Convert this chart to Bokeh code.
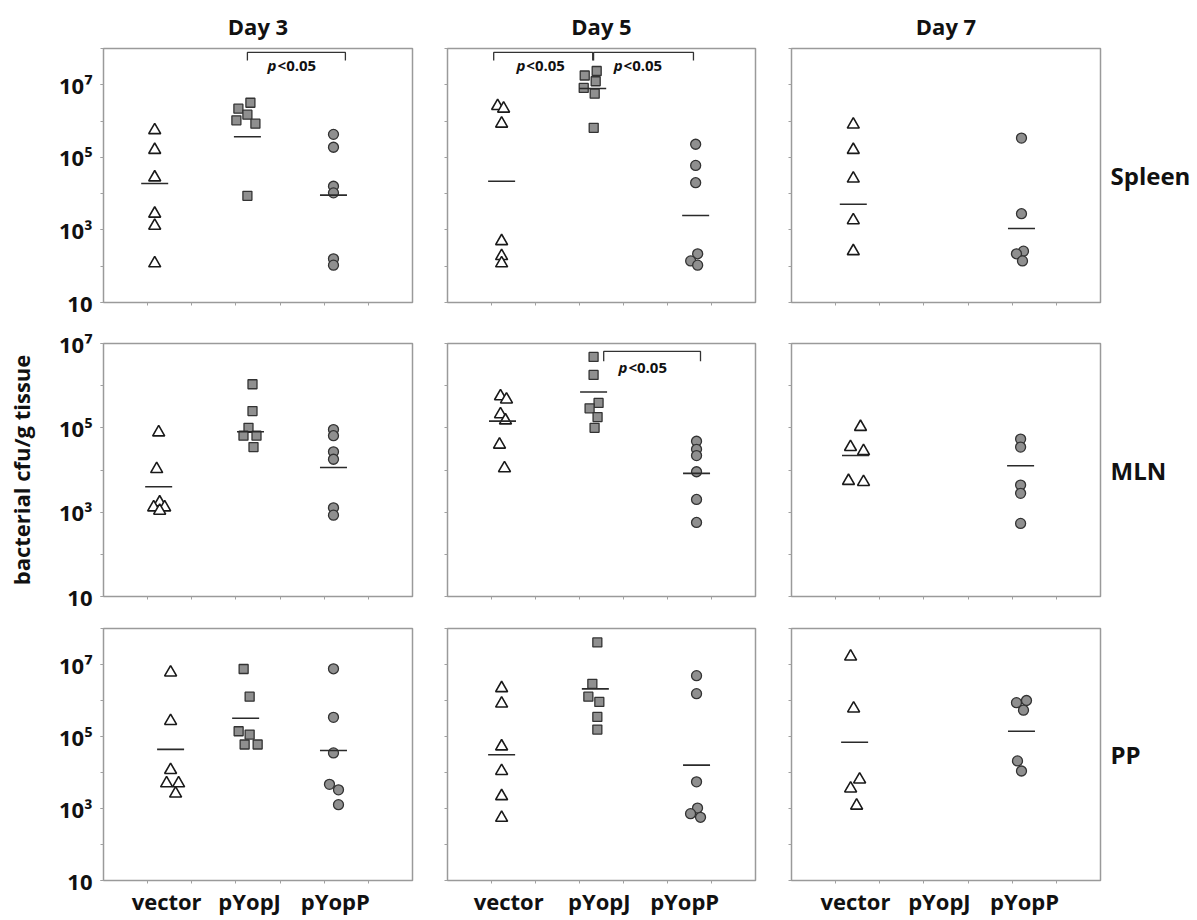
from bokeh.plotting import figure
from bokeh.layouts import column, row
from bokeh.models import Range1d, FixedTicker, CustomJSTickFormatter, ColumnDataSource, LogAxis
from bokeh.core.properties import value
from bokeh.embed import file_html
from bokeh.resources import INLINE

# ---------------- data (bacterial cfu / g tissue) ----------------
GROUPS = ["vector", "pYopJ", "pYopP"]
DAYS = ["Day 3", "Day 5", "Day 7"]
TISSUES = ["Spleen", "MLN", "PP"]
Y_AXIS_TITLE = "bacterial cfu/g tissue"
SIG_TEXT = ("p", "<0.05")

spleen_d3_vector = [5.6e5, 1.6e5, 2.8e4, 2.8e3, 1.3e3, 1.2e2]
spleen_d3_pyopj = [3.2e6, 2.2e6, 1.5e6, 1.05e6, 8.5e5, 8.7e3]
spleen_d3_pyopp = [4.3e5, 1.9e5, 1.6e4, 1.05e4, 1.6e2, 1.07e2]
spleen_d5_vector = [2.6e6, 2.2e6, 8.5e5, 4.9e2, 1.9e2, 1.2e2]
spleen_d5_pyopj = [2.4e7, 1.8e7, 1.25e7, 8.2e6, 5.7e6, 6.5e5]
spleen_d5_pyopp = [2.3e5, 6.0e4, 2.0e4, 2.2e2, 1.4e2, 1.07e2]
spleen_d7_vector = [8.0e5, 1.6e5, 2.6e4, 1.85e3, 2.6e2]
spleen_d7_pyopj = []
spleen_d7_pyopp = [3.4e5, 2.8e3, 2.6e2, 2.2e2, 1.4e2]

mln_d3_vector = [7.8e4, 1.05e4, 1.7e3, 1.3e3, 1.3e3, 1.08e3]
mln_d3_pyopj = [1.08e6, 2.5e5, 1.0e5, 6.5e4, 6.5e4, 3.5e4]
mln_d3_pyopp = [9.1e4, 6.5e4, 2.7e4, 1.8e4, 1.27e3, 8.5e2]
mln_d5_vector = [5.6e5, 4.7e5, 2.1e5, 1.5e5, 4.0e4, 1.1e4]
mln_d5_pyopj = [4.8e6, 1.8e6, 3.9e5, 2.9e5, 1.8e5, 1.0e5]
mln_d5_pyopp = [4.8e4, 3.1e4, 2.2e4, 9.1e3, 2.0e3, 5.7e2]
mln_d7_vector = [1.05e5, 3.5e4, 2.8e4, 5.5e3, 5.2e3]
mln_d7_pyopj = []
mln_d7_pyopp = [5.4e4, 3.5e4, 4.4e3, 2.8e3, 5.4e2]

pp_d3_vector = [6.0e6, 2.7e5, 1.17e4, 5.0e3, 5.0e3, 2.6e3]
pp_d3_pyopj = [7.5e6, 1.28e6, 1.4e5, 1.13e5, 6.0e4, 6.0e4]
pp_d3_pyopp = [7.6e6, 3.4e5, 3.5e4, 4.7e3, 3.3e3, 1.28e3]
pp_d5_vector = [2.2e6, 8.2e5, 5.3e4, 1.1e4, 2.2e3, 5.5e2]
pp_d5_pyopj = [4.1e7, 2.9e6, 1.28e6, 9.1e5, 3.5e5, 1.56e5]
pp_d5_pyopp = [4.9e6, 1.55e6, 5.5e3, 1.03e3, 7.2e2, 5.7e2]
pp_d7_vector = [1.66e7, 6.0e5, 6.4e3, 3.6e3, 1.2e3]
pp_d7_pyopj = []
pp_d7_pyopp = [1.0e6, 8.7e5, 5.4e5, 2.1e4, 1.1e4]

# group mean bars, per day: [vector, pYopJ, pYopP]
spleen_means = [[1.9e4, 3.7e5, 9.1e3], [2.2e4, 7.9e6, 2.5e3], [5.1e3, None, 1.1e3]]
mln_means = [[4.0e3, 8.1e4, 1.15e4], [1.44e5, 7.1e5, 8.3e3], [2.2e4, None, 1.26e4]]
pp_means = [[4.4e4, 3.2e5, 4.1e4], [3.1e4, 2.1e6, 1.6e4], [6.9e4, None, 1.4e5]]

DATA = [
    [[spleen_d3_vector, spleen_d3_pyopj, spleen_d3_pyopp],
     [spleen_d5_vector, spleen_d5_pyopj, spleen_d5_pyopp],
     [spleen_d7_vector, spleen_d7_pyopj, spleen_d7_pyopp]],
    [[mln_d3_vector, mln_d3_pyopj, mln_d3_pyopp],
     [mln_d5_vector, mln_d5_pyopj, mln_d5_pyopp],
     [mln_d7_vector, mln_d7_pyopj, mln_d7_pyopp]],
    [[pp_d3_vector, pp_d3_pyopj, pp_d3_pyopp],
     [pp_d5_vector, pp_d5_pyopj, pp_d5_pyopp],
     [pp_d7_vector, pp_d7_pyopj, pp_d7_pyopp]],
]
MEANS = [spleen_means, mln_means, pp_means]

# ---------------- positions / layout (not data) ----------------
Y_TOP = [1e8, 1e7, 1e8]
GROUP_X = [
    [[1.16, 3.26, 5.21], [1.23, 3.30, 5.64], [1.40, 3.30, 5.21]],
    [[1.25, 3.33, 5.21], [1.25, 3.32, 5.66], [1.45, 3.30, 5.19]],
    [[1.52, 3.22, 5.21], [1.23, 3.36, 5.66], [1.43, 3.30, 5.21]],
]
JITTER_PX = [
    [[[0, 0, 0, 0, 0, 0], [3, -9, 0, -11, 8, 0], [0, 0, 0, 0, 0, 0]],
     [[-4, 2, 0, 0, 0, 0], [4, -8, 3, -9, 2, 1], [0, 0, 0, 2, -5, 2]],
     [[0, 0, 0, 0, 0], [], [0, 0, 2, -5, 1]]],
    [[[0, -2, 1, -5, 6, 1], [2, 2, -2, -7, 6, 3], [0, 0, 0, 0, 0, 0]],
     [[-2, 4, -2, 3, -3, 2], [0, 0, 5, -4, 4, 1], [0, 0, 0, 0, 0, 0]],
     [[5, -5, 8, -7, 8], [], [0, 0, 0, 0, 0]]],
    [[[0, 0, 0, -4, 8, 5], [-2, 4, -7, 4, -1, 12], [0, 0, 0, -4, 5, 5]],
     [[0, 0, 0, 0, 0, 0], [2, -3, -7, 4, 2, 2], [0, 0, 0, 1, -6, 4]],
     [[-4, -1, 5, -4, 2], [], [5, -5, 2, -4, 0]]],
]
LABEL_X = [[1.43, 3.31, 5.25], [1.39, 3.45, 5.39], [1.45, 3.35, 5.28]]
# significance brackets: (x0, x1, y_top, y_end, text_x, text_y)
BRACKETS = {
    (0, 0): [(3.26, 5.48, 7.8e7, 4.7e7, 4.26, 3.6e7)],
    (0, 1): [(1.05, 3.30, 7.8e7, 4.7e7, 2.11, 3.6e7),
             (3.32, 5.59, 7.8e7, 4.7e7, 4.32, 3.6e7)],
    (1, 1): [(3.55, 5.75, 6.5e6, 3.8e6, 4.43, 2.8e6)],
}

FONT = "Open Sans"
FRAME_W = [309, 308, 309]
BORDER_L = [103, 18, 18]
BORDER_R = [17, 18, 94]
FRAME_H = [255, 253, 255]
BORDER_T = [47, 21, 16]
BORDER_B = [20, 16, 35]
PX_PER_UNIT = 44.1

MARKERS = ["triangle", "square", "circle"]
FILLS = ["white", "#8f8f8f", "#8f8f8f"]
LINES = ["#1a1a1a", "#333333", "#333333"]
SIZES = [12, 9, 10]
LWIDTH = [1.6, 1.3, 1.3]

fmt_y = CustomJSTickFormatter(code="""
const e = Math.round(Math.log10(tick));
const sup = {3: '\u00b3', 5: '\u2075', 7: '\u2077'};
return e == 1 ? '10' : '10' + sup[e];
""")


def make_panel(r, c):
    p = figure(width=BORDER_L[c] + FRAME_W[c] + BORDER_R[c],
               height=BORDER_T[r] + FRAME_H[r] + BORDER_B[r],
               x_range=Range1d(0, 7), y_range=Range1d(10, Y_TOP[r]),
               y_axis_type="log", output_backend="svg", toolbar_location=None,
               min_border_left=BORDER_L[c], min_border_right=BORDER_R[c],
               min_border_top=BORDER_T[r], min_border_bottom=BORDER_B[r],
               background_fill_color="white", border_fill_color="white")
    p.grid.visible = False
    p.outline_line_color = "#9a9a9a"
    p.outline_line_width = 1.5

    # x axis
    xa = p.xaxis[0]
    xa.ticker = FixedTicker(ticks=LABEL_X[c] if r == 2 else [], minor_ticks=[1, 2, 3, 4, 5, 6])
    xa.formatter = CustomJSTickFormatter(args=dict(labels=GROUPS), code="return labels[index];")
    xa.axis_line_color = None
    xa.major_tick_line_color = None
    xa.major_tick_out = 0
    xa.major_tick_in = 0
    xa.minor_tick_line_color = "#a0a0a0"
    xa.minor_tick_out = 3
    xa.minor_tick_in = 0
    xa.major_label_standoff = 2
    xa.major_label_text_font = FONT
    xa.major_label_text_font_size = "22px"
    xa.major_label_text_font_style = "bold"
    xa.major_label_text_color = "#111111"

    # y axis
    ya = p.yaxis[0]
    ya.ticker = FixedTicker(ticks=[10, 1e3, 1e5, 1e7] if c == 0 else [],
                            minor_ticks=[10.0 ** k for k in range(1, 9)])
    ya.formatter = fmt_y
    ya.axis_line_color = None
    ya.major_tick_line_color = "#a0a0a0"
    ya.major_tick_out = 3
    ya.major_tick_in = 0
    ya.minor_tick_line_color = "#a0a0a0"
    ya.minor_tick_out = 3
    ya.minor_tick_in = 0
    ya.major_label_standoff = 8
    ya.major_label_text_font = FONT
    ya.major_label_text_font_size = "22px"
    ya.major_label_text_font_style = "bold"
    ya.major_label_text_color = "#111111"
    if r == 1 and c == 0:
        ya.axis_label = Y_AXIS_TITLE
        ya.axis_label_text_font = FONT
        ya.axis_label_text_font_size = "22px"
        ya.axis_label_text_font_style = "bold"
        ya.axis_label_text_color = "#111111"
        ya.axis_label_standoff = 20

    if r == 0:
        p.title.text = DAYS[c]
        p.title.align = "center"
        p.title.text_font = FONT
        p.title.text_font_size = "22px"
        p.title.text_font_style = "bold"
        p.title.text_color = "#111111"
        p.title.standoff = 16

    # points
    for g in range(3):
        vals = DATA[r][c][g]
        if not vals:
            continue
        xs = [GROUP_X[r][c][g] + j / PX_PER_UNIT for j in JITTER_PX[r][c][g]]
        src = ColumnDataSource(dict(x=xs, y=vals))
        p.scatter("x", "y", source=src, marker=MARKERS[g], size=SIZES[g],
                  fill_color=FILLS[g], line_color=LINES[g], line_width=LWIDTH[g])

    # mean bars
    mx, my = [], []
    for g in range(3):
        m = MEANS[r][c][g]
        if m is not None:
            mx.append(GROUP_X[r][c][g])
            my.append(m)
    p.scatter(mx, my, marker="dash", size=27, line_color="#2a2a2a", line_width=1.6)

    # significance brackets
    for (x0, x1, yt, ye, tx, ty) in BRACKETS.get((r, c), []):
        p.line([x0, x0, x1, x1], [ye, yt, yt, ye], line_color="#333333", line_width=1.3)
        p.text([tx], [ty], text=[SIG_TEXT[0]], text_font=value(FONT), text_font_size="15px",
               text_font_style="bold italic", text_align="right", text_baseline="middle",
               x_offset=-15, text_color="#111111")
        p.text([tx], [ty], text=[SIG_TEXT[1]], text_font=value(FONT), text_font_size="15px",
               text_font_style="bold", text_align="left", text_baseline="middle",
               x_offset=-14, text_color="#111111")

    # tissue label on the right
    if c == 2:
        ra = LogAxis(ticker=FixedTicker(ticks=[], minor_ticks=[]), axis_label=TISSUES[r],
                     axis_label_orientation="horizontal", axis_line_color=None,
                     major_tick_line_color=None, minor_tick_line_color=None,
                     major_label_text_font_size="1px", axis_label_standoff=10,
                     axis_label_text_font=FONT, axis_label_text_font_size="24px",
                     axis_label_text_font_style="bold", axis_label_text_color="#111111")
        p.add_layout(ra, "right")
    return p


rows = []
for r in range(3):
    rows.append(row(*[make_panel(r, c) for c in range(3)]))
layout = column(*rows)

open("out.html", "w").write(file_html(layout, INLINE))
